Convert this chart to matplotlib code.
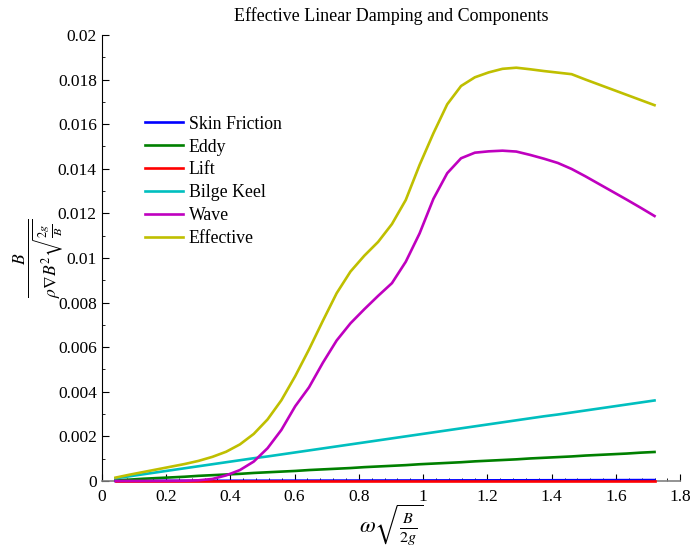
import numpy as np
import matplotlib
matplotlib.use("Agg")
import matplotlib.pyplot as plt
from matplotlib.ticker import MultipleLocator

plt.rcParams['font.family'] = ['Liberation Serif', 'DejaVu Serif']
plt.rcParams['mathtext.fontset'] = 'stix'

# non-dimensional roll frequency
omega = [0.043, 0.086, 0.129, 0.172, 0.215, 0.258, 0.301, 0.344, 0.387, 0.430,
         0.473, 0.516, 0.559, 0.602, 0.645, 0.688, 0.731, 0.774, 0.817, 0.860,
         0.903, 0.946, 0.989, 1.032, 1.075, 1.118, 1.161, 1.204, 1.247, 1.290,
         1.333, 1.376, 1.419, 1.462, 1.505, 1.548, 1.591, 1.634, 1.677, 1.720]

# damping components (non-dimensional)
skin_friction = [0.000001, 0.000002, 0.000003, 0.000004, 0.000005, 0.000006, 0.000007, 0.000008,
                 0.000009, 0.000010, 0.000011, 0.000012, 0.000013, 0.000014, 0.000015, 0.000016,
                 0.000017, 0.000018, 0.000019, 0.000020, 0.000021, 0.000022, 0.000023, 0.000024,
                 0.000025, 0.000026, 0.000027, 0.000028, 0.000029, 0.000030, 0.000031, 0.000032,
                 0.000033, 0.000034, 0.000035, 0.000036, 0.000037, 0.000038, 0.000039, 0.000040]

eddy = [0.00003, 0.00006, 0.00010, 0.00013, 0.00016, 0.00019, 0.00023, 0.00026, 0.00029, 0.00032,
        0.00036, 0.00039, 0.00042, 0.00045, 0.00049, 0.00052, 0.00055, 0.00058, 0.00062, 0.00065,
        0.00068, 0.00071, 0.00075, 0.00078, 0.00081, 0.00084, 0.00088, 0.00091, 0.00094, 0.00097,
        0.00101, 0.00104, 0.00107, 0.00110, 0.00114, 0.00117, 0.00120, 0.00123, 0.00127, 0.00130]

lift = [0.0] * 40

bilge_keel = [0.00012, 0.00021, 0.00030, 0.00039, 0.00048, 0.00057, 0.00066, 0.00075, 0.00084, 0.00093,
              0.00102, 0.00110, 0.00119, 0.00128, 0.00137, 0.00146, 0.00155, 0.00164, 0.00173, 0.00182,
              0.00191, 0.00200, 0.00209, 0.00218, 0.00227, 0.00236, 0.00245, 0.00254, 0.00263, 0.00272,
              0.00281, 0.00290, 0.00298, 0.00307, 0.00316, 0.00325, 0.00334, 0.00343, 0.00352, 0.00361]

wave = [0.0, 0.0, 0.000001, 0.000003, 0.000006, 0.00001, 0.00003, 0.00009, 0.00025, 0.00049,
        0.00087, 0.00147, 0.00229, 0.00335, 0.00420, 0.00530, 0.00630, 0.00707, 0.00770, 0.00830,
        0.00887, 0.00983, 0.01110, 0.01265, 0.01380, 0.01447, 0.01472, 0.01478, 0.01481, 0.01477,
        0.01462, 0.01445, 0.01426, 0.01399, 0.01366, 0.01331, 0.01296, 0.01261, 0.01225, 0.01188]

effective = [0.00015, 0.00028, 0.00040, 0.00052, 0.00064, 0.00076, 0.00090, 0.00108, 0.00131, 0.00164,
             0.00211, 0.00276, 0.00362, 0.00470, 0.00590, 0.00718, 0.00842, 0.00939, 0.01010, 0.01072,
             0.01152, 0.01260, 0.01417, 0.01559, 0.01689, 0.01771, 0.01810, 0.01832, 0.01848, 0.01853,
             0.01846, 0.01838, 0.01831, 0.01824, 0.01800, 0.01777, 0.01754, 0.01731, 0.01708, 0.01685]

series = [
    ("Skin Friction", skin_friction, (0, 0, 1)),
    ("Eddy", eddy, (0, 0.5, 0)),
    ("Lift", lift, (1, 0, 0)),
    ("Bilge Keel", bilge_keel, (0, 0.75, 0.75)),
    ("Wave", wave, (0.75, 0, 0.75)),
    ("Effective", effective, (0.75, 0.75, 0)),
]

fig = plt.figure(figsize=(6.92, 5.5), dpi=100)
ax = fig.add_axes([0.147, 0.1255, 0.836, 0.811])

for name, vals, col in series:
    ax.plot(omega, vals, color=col, lw=1.9, label=name, clip_on=False, zorder=3)

ax.set_xlim(0, 1.8)
ax.set_ylim(0, 0.02)
xt = np.arange(0, 1.81, 0.2)
ax.set_xticks(xt)
ax.set_xticklabels(['0' if abs(v) < 1e-9 else ('1' if abs(v - 1) < 1e-9 else f'{v:g}') for v in xt])
ax.xaxis.set_minor_locator(MultipleLocator(0.04))
yt = np.arange(0, 0.0201, 0.002)
ax.set_yticks(yt)
ax.set_yticklabels(['0' if abs(v) < 1e-12 else f'{v:.3f}'.rstrip('0') for v in yt])
ax.yaxis.set_minor_locator(MultipleLocator(0.001))

ax.tick_params(which='both', direction='in', labelsize=12.5, colors='black')
ax.tick_params(which='major', length=5, width=0.8)
ax.tick_params(which='minor', length=2.5, width=0.6)
ax.tick_params(axis='x', pad=6)
ax.spines['top'].set_visible(False)
ax.spines['right'].set_visible(False)
ax.spines['bottom'].set_color('0.5')
ax.spines['bottom'].set_linewidth(1.2)
ax.spines['left'].set_color('black')

ax.set_title("Effective Linear Damping and Components", fontsize=13, pad=10)
ax.set_xlabel(r"$\omega\sqrt{\frac{B}{2g}}$", fontsize=16.5, labelpad=-1.5)
ax.set_ylabel(r"$\frac{B}{\rho\nabla B^2\sqrt{\frac{2g}{B}}}$", fontsize=18, labelpad=-6)

ax.legend(loc='upper left', bbox_to_anchor=(0.075, 0.819), frameon=False,
          fontsize=12.8, handlelength=2.15, handletextpad=0.3, labelspacing=0.33,
          borderpad=0, borderaxespad=0)

fig.savefig("out.png", dpi=100)
